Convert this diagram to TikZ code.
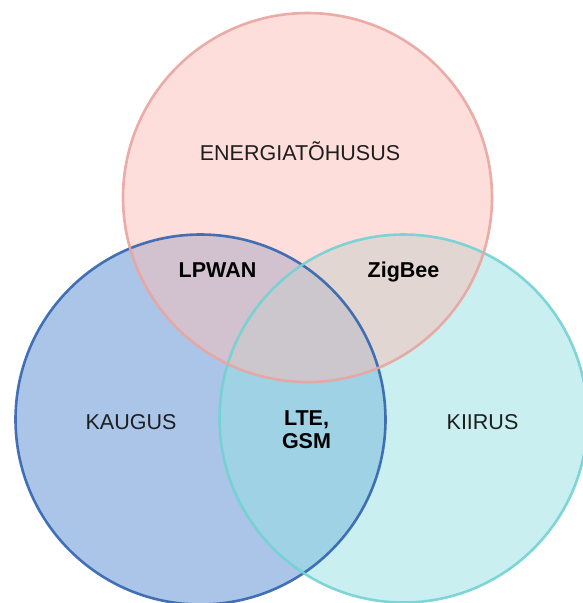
\documentclass[tikz,border=0pt]{standalone}
\usepackage{fontspec}
\setmainfont{Liberation Sans}
\definecolor{energyfill}{RGB}{251,189,183}
\definecolor{rangefill}{RGB}{85,139,209}
\definecolor{speedfill}{RGB}{147,223,225}
\definecolor{energyline}{RGB}{233,165,160}
\definecolor{rangeline}{RGB}{50,100,175}
\definecolor{speedline}{RGB}{115,210,212}
\definecolor{labeltext}{RGB}{30,30,30}
\begin{document}
\begin{tikzpicture}[x=1pt,y=-1pt,
  setfill/.style={fill=#1, fill opacity=0.5, draw=none},
  setline/.style={draw=#1, line width=2.6pt, draw opacity=0.9},
  setname/.style={anchor=base, inner sep=0pt, text=labeltext, font=\fontsize{21.5}{25}\selectfont},
  pairname/.style={anchor=base, inner sep=0pt, text=black, font=\fontsize{21.5}{25}\selectfont\bfseries}]
\useasboundingbox (0,0) rectangle (582,603);
% circle centres
\coordinate (cE) at (307.5,197.5);
\coordinate (cR) at (200.5,419.5);
\coordinate (cS) at (403.5,418.5);
% translucent fills
\fill[setfill=rangefill] (cR) circle[radius=185pt];
\fill[setfill=speedfill] (cS) circle[radius=184pt];
\fill[setfill=energyfill] (cE) circle[radius=184.5pt];
% outlines
\draw[setline=rangeline] (cR) circle[radius=185pt];
\draw[setline=speedline] (cS) circle[radius=184pt];
\draw[setline=energyline] (cE) circle[radius=184.5pt];
% labels
\node[setname] (energy) at (300,160.5) {ENERGIATÕHUSUS};
\node[setname] (range) at (131,429.5) {KAUGUS};
\node[setname] (speed) at (482.5,429) {KIIRUS};
\node[pairname] (lpwan) at (217.5,277.5) {LPWAN};
\node[pairname] (zigbee) at (403.5,277.5) {ZigBee};
\node[anchor=center, inner sep=0pt, text=black, align=center,
      font=\fontsize{21.5}{23}\selectfont\bfseries] (cell) at (306.5,430) {LTE,\\GSM};
\end{tikzpicture}
\end{document}
